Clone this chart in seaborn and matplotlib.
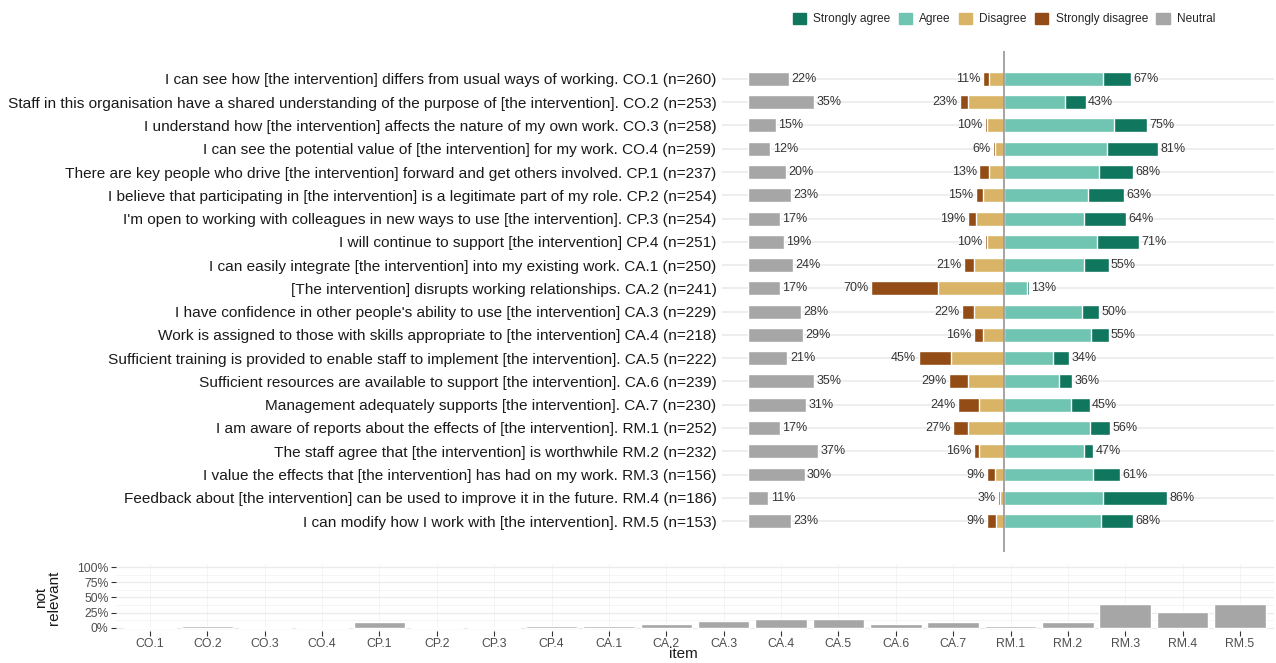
import matplotlib
matplotlib.use("Agg")
import matplotlib.pyplot as plt
import matplotlib.patches as mpatches
import seaborn as sns

# DATA
items = ["CO.1", "CO.2", "CO.3", "CO.4", "CP.1", "CP.2", "CP.3", "CP.4",
         "CA.1", "CA.2", "CA.3", "CA.4", "CA.5", "CA.6", "CA.7",
         "RM.1", "RM.2", "RM.3", "RM.4", "RM.5"]
questions = [
    "I can see how [the intervention] differs from usual ways of working.",
    "Staff in this organisation have a shared understanding of the purpose of [the intervention].",
    "I understand how [the intervention] affects the nature of my own work.",
    "I can see the potential value of [the intervention] for my work.",
    "There are key people who drive [the intervention] forward and get others involved.",
    "I believe that participating in [the intervention] is a legitimate part of my role.",
    "I'm open to working with colleagues in new ways to use [the intervention].",
    "I will continue to support [the intervention]",
    "I can easily integrate [the intervention] into my existing work.",
    "[The intervention] disrupts working relationships.",
    "I have confidence in other people's ability to use [the intervention]",
    "Work is assigned to those with skills appropriate to [the intervention]",
    "Sufficient training is provided to enable staff to implement [the intervention].",
    "Sufficient resources are available to support [the intervention].",
    "Management adequately supports [the intervention].",
    "I am aware of reports about the effects of [the intervention].",
    "The staff agree that [the intervention] is worthwhile",
    "I value the effects that [the intervention] has had on my work.",
    "Feedback about [the intervention] can be used to improve it in the future.",
    "I can modify how I work with [the intervention].",
]
n_resp = [260, 253, 258, 259, 237, 254, 254, 251, 250, 241, 229, 218, 222, 239, 230,
          252, 232, 156, 186, 153]
strongly_agree = [15, 11, 17, 27, 18, 19, 22, 22, 13, 1, 9, 9, 8, 7, 10, 11, 5, 14, 34, 17]
agree = [52, 32, 58, 54, 50, 44, 42, 49, 42, 12, 41, 46, 26, 29, 35, 45, 42, 47, 52, 51]
disagree = [8, 19, 9, 5, 8, 11, 15, 9, 16, 35, 16, 11, 28, 19, 13, 19, 13, 5, 2, 4]
strongly_disagree = [3, 4, 1, 1, 5, 4, 4, 1, 5, 35, 6, 5, 17, 10, 11, 8, 3, 4, 1, 5]
neutral = [22, 35, 15, 12, 20, 23, 17, 19, 24, 17, 28, 29, 21, 35, 31, 17, 37, 30, 11, 23]
not_relevant = [1, 4, 1, 1, 9, 2, 2, 3.5, 3.5, 6, 11, 15, 14, 7, 10, 3, 10, 40, 27, 40]

labels = [f"{q} {it} (n={n})" for q, it, n in zip(questions, items, n_resp)]
pos_total = [a + s for a, s in zip(agree, strongly_agree)]
neg_total = [d + s for d, s in zip(disagree, strongly_disagree)]

# COLOURS
c_sa = "#10765E"
c_a = "#6FC4B2"
c_d = "#D9B466"
c_sd = "#934C16"
c_n = "#A6A6A6"
grid_c = "#EBEBEB"

sns.set_theme(style="white")
plt.rcParams["font.family"] = ["Liberation Sans", "DejaVu Sans"]

W, H = 1276, 663
fig = plt.figure(figsize=(W / 100, H / 100), dpi=100)


def box(x0, x1, ytop, ybot):
    return [x0 / W, 1 - ybot / H, (x1 - x0) / W, (ybot - ytop) / H]


px = 1.9  # pixels per percent
ax_n = fig.add_axes(box(722, 860, 51, 552))
ax_m = fig.add_axes(box(860, 1274, 51, 552))
ax_b = fig.add_axes(box(115.6, 1274.4, 564, 631))

# NEUTRAL PANEL
sns.barplot(x=neutral, y=items, color=c_n, width=0.6, errorbar=None,
            orient="h", saturation=1, ax=ax_n)
ax_n.set_xlim(-(747.5 - 722) / px, (860 - 747.5) / px)

# MAIN DIVERGING PANEL (overlapping layers)
sns.barplot(x=[-v for v in neg_total], y=items, color=c_sd, width=0.6,
            errorbar=None, orient="h", saturation=1, ax=ax_m)
sns.barplot(x=[-v for v in disagree], y=items, color=c_d, width=0.6,
            errorbar=None, orient="h", saturation=1, ax=ax_m)
sns.barplot(x=pos_total, y=items, color=c_sa, width=0.6,
            errorbar=None, orient="h", saturation=1, ax=ax_m)
sns.barplot(x=agree, y=items, color=c_a, width=0.6,
            errorbar=None, orient="h", saturation=1, ax=ax_m)
ax_m.set_xlim(-(1004 - 860) / px, (1274 - 1004) / px)
ax_m.axvline(0, color="#8C8C8C", lw=1.1, zorder=5)

for ax in (ax_n, ax_m):
    ax.set_ylim(len(items) - 1 + 1.33, -1.2)
    for i in range(len(items)):
        ax.axhline(i, color=grid_c, lw=1.2, zorder=0)
    ax.set_xlabel("")
    ax.set_ylabel("")
    ax.set_xticks([])
    for s in ax.spines.values():
        s.set_visible(False)
    ax.set_axisbelow(True)

ax_n.set_yticks(range(len(items)))
ax_n.set_yticklabels(labels, fontsize=11.1, color="#1A1A1A")
ax_n.tick_params(axis="y", length=0, pad=4)
ax_m.set_yticks([])

for i in range(len(items)):
    ax_n.text(neutral[i] + 1.3, i, f"{neutral[i]}%", va="center", ha="left",
              fontsize=9, color="#333333")
    ax_m.text(pos_total[i] + 1.3, i, f"{pos_total[i]}%", va="center", ha="left",
              fontsize=9, color="#333333")
    ax_m.text(-neg_total[i] - 1.3, i, f"{neg_total[i]}%", va="center", ha="right",
              fontsize=9, color="#333333", clip_on=False)

# NOT RELEVANT PANEL
sns.barplot(x=items, y=not_relevant, color=c_n, width=0.9, errorbar=None,
            saturation=1, ax=ax_b)
ax_b.set_ylim(-5, 105)
ax_b.set_xlim(-0.6, len(items) - 0.4)
ax_b.set_yticks([0, 25, 50, 75, 100])
ax_b.set_yticklabels(["0%", "25%", "50%", "75%", "100%"])
ax_b.set_yticks([12.5, 37.5, 62.5, 87.5], minor=True)
ax_b.grid(axis="y", which="major", color=grid_c, lw=1.0)
ax_b.grid(axis="y", which="minor", color="#F3F3F3", lw=0.6)
ax_b.grid(axis="x", which="major", color="#F3F3F3", lw=0.6)
ax_b.set_axisbelow(True)
for s in ax_b.spines.values():
    s.set_visible(False)
ax_b.tick_params(axis="both", which="major", length=3.5, width=0.8,
                 color="#333333", labelsize=8.8, labelcolor="#4D4D4D", pad=1.5,
                 bottom=True, left=True)
ax_b.tick_params(axis="both", which="minor", length=0)
ax_b.set_ylabel("not\nrelevant", fontsize=11, color="#1A1A1A", linespacing=0.95)
ax_b.yaxis.set_label_coords((47.5 - 115.6) / (1274.4 - 115.6), 0.5)
ax_b.yaxis.label.set_va("center")
ax_b.set_xlabel("item", fontsize=11, color="#1A1A1A")
ax_b.xaxis.set_label_coords(0.49, -(654 - 631) / (631 - 564))
ax_b.xaxis.label.set_va("center")

# LEGEND
handles = [mpatches.Patch(color=c, label=l) for c, l in
           [(c_sa, "Strongly agree"), (c_a, "Agree"), (c_d, "Disagree"),
            (c_sd, "Strongly disagree"), (c_n, "Neutral")]]
fig.legend(handles=handles, loc="center", ncol=5, frameon=False, fontsize=8.6,
           bbox_to_anchor=(1004 / W, 1 - 19 / H), handlelength=1.1,
           handleheight=1.1, handletextpad=0.6, columnspacing=0.7)

fig.savefig("out.png", dpi=100)
